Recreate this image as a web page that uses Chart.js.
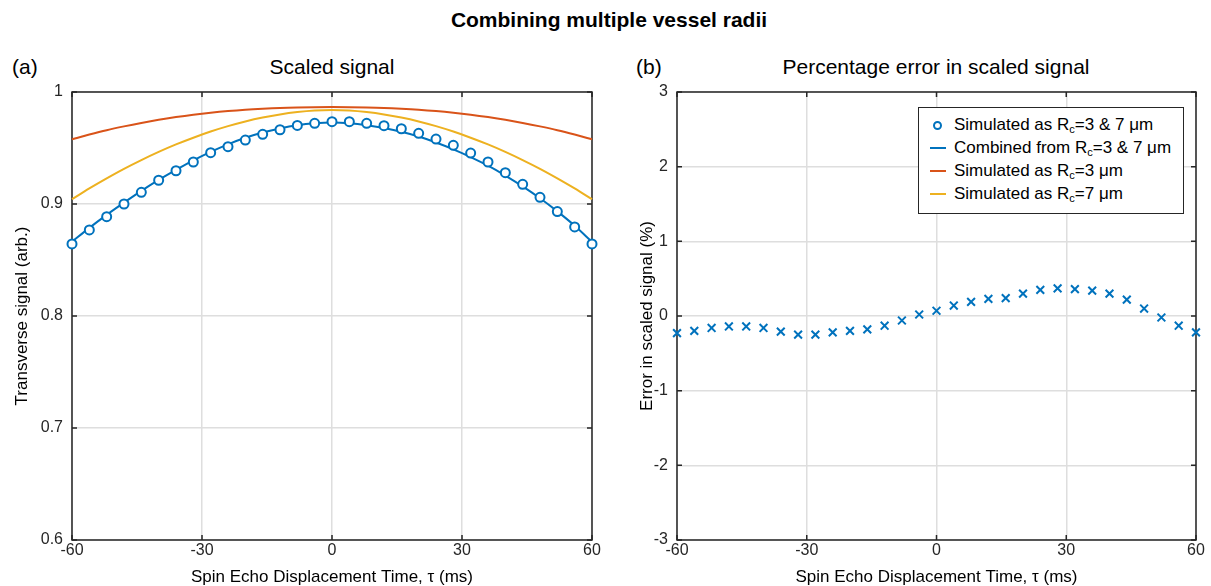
<!DOCTYPE html>
<html>
<head>
<meta charset="utf-8">
<script src="https://cdn.jsdelivr.net/npm/chart.js@4.4.1/dist/chart.umd.min.js"></script>
<style>
    body { margin: 0; background: #fff; font-family: "Liberation Sans", Arial, sans-serif; color: #000; }
    #figure { position: relative; width: 1211px; height: 586px; overflow: hidden; }
    canvas { position: absolute; top: 0; }
    .label { position: absolute; white-space: nowrap; line-height: 1; font-size: 21px; }
    .center { text-align: center; }
    #legend {
        position: absolute; left: 918px; top: 107px; width: 266px; height: 107px;
        box-sizing: border-box; border: 1px solid #262626; background: #fff;
        font-size: 17px; padding-top: 5px;
    }
    #legend .row { position: relative; height: 23px; line-height: 23px; padding-left: 35px; white-space: nowrap; }
    #legend sub { font-size: 0.65em; vertical-align: -0.3em; line-height: 0; }
    #legend .line { position: absolute; left: 11px; top: 11px; width: 16px; height: 2px; }
    #legend .marker { position: absolute; left: 14px; top: 8px; width: 5px; height: 5px; border: 2px solid #0072BD; border-radius: 50%; background: #fff; }
</style>
</head>
<body>
<div id="figure">
    <div class="label center" style="left:309px; top:9px; width:600px; font-weight:bold;">Combining multiple vessel radii</div>
    <div class="label" style="left:12px; top:56px;">(a)</div>
    <div class="label center" style="left:232px; top:56px; width:200px;">Scaled signal</div>
    <div class="label" style="left:636px; top:56px;">(b)</div>
    <div class="label center" style="left:736px; top:56px; width:400px;">Percentage error in scaled signal</div>

    <canvas id="chartSignal" width="605" height="586" style="left:0;"></canvas>
    <canvas id="chartError" width="606" height="586" style="left:605px;"></canvas>

    <div id="legend">
        <div class="row"><span class="marker"></span>Simulated as R<sub>c</sub>=3 &amp; 7 μm</div>
        <div class="row"><span class="line" style="background:#0072BD;"></span>Combined from R<sub>c</sub>=3 &amp; 7 μm</div>
        <div class="row"><span class="line" style="background:#D95319;"></span>Simulated as R<sub>c</sub>=3 μm</div>
        <div class="row"><span class="line" style="background:#EDB120;"></span>Simulated as R<sub>c</sub>=7 μm</div>
    </div>
</div>

<script>
// Spin echo displacement times (ms)
const tau = [-60, -56, -52, -48, -44, -40, -36, -32, -28, -24, -20, -16, -12, -8, -4, 0,
             4, 8, 12, 16, 20, 24, 28, 32, 36, 40, 44, 48, 52, 56, 60];

// Signal simulated directly with both radii
const simulatedBoth = [0.8643, 0.8768, 0.8887, 0.9000, 0.9104, 0.9212, 0.9297, 0.9375, 0.9458, 0.9512,
                       0.9571, 0.9622, 0.9663, 0.9702, 0.9720, 0.9735, 0.9735, 0.9720, 0.9699, 0.9672,
                       0.9631, 0.9580, 0.9524, 0.9455, 0.9375, 0.9280, 0.9176, 0.9060, 0.8932, 0.8795, 0.8643];

// Signal combined from the two single-radius simulations
const combinedBoth = [0.8663, 0.8787, 0.8903, 0.9012, 0.9117, 0.9215, 0.9305, 0.9390, 0.9466, 0.9533,
                      0.9591, 0.9638, 0.9675, 0.9703, 0.9720, 0.9727, 0.9721, 0.9704, 0.9678, 0.9645,
                      0.9602, 0.9549, 0.9488, 0.9419, 0.9342, 0.9254, 0.9157, 0.9051, 0.8934, 0.8806, 0.8662];

// Single radius simulations
const simulatedR3 = [0.9578, 0.9620, 0.9659, 0.9693, 0.9724, 0.9752, 0.9776, 0.9797, 0.9815, 0.9830,
                     0.9842, 0.9851, 0.9858, 0.9862, 0.9864, 0.9865, 0.9864, 0.9862, 0.9858, 0.9851,
                     0.9842, 0.9830, 0.9815, 0.9797, 0.9776, 0.9752, 0.9724, 0.9693, 0.9659, 0.9620, 0.9578];
const simulatedR7 = [0.9043, 0.9139, 0.9229, 0.9314, 0.9392, 0.9465, 0.9532, 0.9592, 0.9647, 0.9695,
                     0.9737, 0.9772, 0.9800, 0.9821, 0.9835, 0.9840, 0.9835, 0.9821, 0.9800, 0.9772,
                     0.9737, 0.9695, 0.9647, 0.9592, 0.9532, 0.9465, 0.9392, 0.9314, 0.9229, 0.9139, 0.9043];

// Percentage error of the combined signal
const errorPercent = [-0.23, -0.20, -0.16, -0.14, -0.14, -0.16, -0.21, -0.25, -0.25, -0.22,
                      -0.20, -0.18, -0.13, -0.06, 0.02, 0.07, 0.14, 0.19, 0.23, 0.24,
                      0.30, 0.35, 0.37, 0.36, 0.34, 0.30, 0.22, 0.10, -0.02, -0.13, -0.22];

// Tick positions and labels
const tauTicks = [-60, -30, 0, 30, 60];
const tauTickLabels = ['-60', '-30', '0', '30', '60'];
const signalTicks = [0.6, 0.7, 0.8, 0.9, 1];
const signalTickLabels = ['0.6', '0.7', '0.8', '0.9', '1'];
const errorTicks = [-3, -2, -1, 0, 1, 2, 3];
const errorTickLabels = ['-3', '-2', '-1', '0', '1', '2', '3'];

const BLUE = '#0072BD', RED = '#D95319', YELLOW = '#EDB120';
const AXIS = '#262626', GRID = '#dedede';

Chart.defaults.font.family = '"Liberation Sans", Arial, sans-serif';
Chart.defaults.color = AXIS;

const points = ys => tau.map((t, i) => ({ x: t, y: ys[i] }));

// Box round the plot area with inward tick marks
const axesBox = {
    id: 'axesBox',
    beforeDatasetsDraw(chart) {
        const { ctx, chartArea: a, scales: { x, y } } = chart;
        const len = 5;
        ctx.save();
        ctx.strokeStyle = AXIS;
        ctx.lineWidth = 1.5;
        ctx.strokeRect(a.left, a.top, a.right - a.left, a.bottom - a.top);
        ctx.beginPath();
        x.ticks.forEach(t => {
            const px = x.getPixelForValue(t.value);
            ctx.moveTo(px, a.top); ctx.lineTo(px, a.top + len);
            ctx.moveTo(px, a.bottom); ctx.lineTo(px, a.bottom - len);
        });
        y.ticks.forEach(t => {
            const py = y.getPixelForValue(t.value);
            ctx.moveTo(a.left, py); ctx.lineTo(a.left + len, py);
            ctx.moveTo(a.right, py); ctx.lineTo(a.right - len, py);
        });
        ctx.stroke();
        ctx.restore();
    }
};

function xAxis() {
    return {
        type: 'linear',
        min: -60,
        max: 60,
        afterBuildTicks: s => { s.ticks = tauTicks.map(v => ({ value: v })); },
        afterFit: s => { s.height = 46; },
        grid: { color: GRID, lineWidth: 1.5, drawTicks: false },
        border: { display: false },
        ticks: {
            padding: 3,
            font: { size: 16, lineHeight: 1 },
            maxRotation: 0,
            callback: v => tauTickLabels[tauTicks.indexOf(v)]
        },
        title: {
            display: true,
            text: 'Spin Echo Displacement Time, τ (ms)',
            color: '#000',
            font: { size: 17, lineHeight: 1 },
            padding: { top: 0, bottom: 0 }
        }
    };
}

// Scaled signal (a)
const ctxSignal = document.getElementById('chartSignal').getContext('2d');
const chartSignal = new Chart(ctxSignal, {
    type: 'line',
    data: {
        datasets: [{
            label: 'Simulated as Rc=3 & 7 μm',
            data: points(simulatedBoth),
            showLine: false,
            pointStyle: 'circle',
            pointRadius: 4.5,
            pointBorderWidth: 2,
            pointBorderColor: BLUE,
            pointBackgroundColor: '#fff',
            clip: false
        }, {
            label: 'Combined from Rc=3 & 7 μm',
            data: points(combinedBoth),
            borderColor: BLUE,
            borderWidth: 2,
            pointRadius: 0,
            cubicInterpolationMode: 'monotone',
            clip: false
        }, {
            label: 'Simulated as Rc=3 μm',
            data: points(simulatedR3),
            borderColor: RED,
            borderWidth: 2,
            pointRadius: 0,
            cubicInterpolationMode: 'monotone',
            clip: false
        }, {
            label: 'Simulated as Rc=7 μm',
            data: points(simulatedR7),
            borderColor: YELLOW,
            borderWidth: 2,
            pointRadius: 0,
            cubicInterpolationMode: 'monotone',
            clip: false
        }]
    },
    options: {
        responsive: false,
        animation: false,
        devicePixelRatio: 1,
        layout: { padding: { left: 0, top: 92, right: 13, bottom: 0 } },
        plugins: { legend: { display: false }, tooltip: { enabled: false } },
        scales: {
            x: xAxis(),
            y: {
                min: 0.6,
                max: 1,
                afterBuildTicks: s => { s.ticks = signalTicks.map(v => ({ value: v })); },
                afterFit: s => { s.width = 72; },
                grid: { color: GRID, lineWidth: 1.5, drawTicks: false },
                border: { display: false },
                ticks: {
                    padding: 9,
                    font: { size: 16, lineHeight: 1 },
                    callback: v => signalTickLabels[signalTicks.indexOf(v)]
                },
                title: {
                    display: true,
                    text: 'Transverse signal (arb.)',
                    color: '#000',
                    font: { size: 17, lineHeight: 1 },
                    padding: { top: 14, bottom: 0 }
                }
            }
        }
    },
    plugins: [axesBox]
});

// Percentage error (b)
const ctxError = document.getElementById('chartError').getContext('2d');
const chartError = new Chart(ctxError, {
    type: 'line',
    data: {
        datasets: [{
            label: 'Error in scaled signal (%)',
            data: points(errorPercent),
            showLine: false,
            pointStyle: 'crossRot',
            pointRadius: 5.5,
            pointBorderWidth: 2,
            pointBorderColor: BLUE,
            clip: false
        }]
    },
    options: {
        responsive: false,
        animation: false,
        devicePixelRatio: 1,
        layout: { padding: { left: 0, top: 92, right: 15, bottom: 0 } },
        plugins: { legend: { display: false }, tooltip: { enabled: false } },
        scales: {
            x: xAxis(),
            y: {
                min: -3,
                max: 3,
                afterBuildTicks: s => { s.ticks = errorTicks.map(v => ({ value: v })); },
                afterFit: s => { s.width = 72; },
                grid: { color: GRID, lineWidth: 1.5, drawTicks: false },
                border: { display: false },
                ticks: {
                    padding: 9,
                    font: { size: 16, lineHeight: 1 },
                    callback: v => errorTickLabels[errorTicks.indexOf(v)]
                },
                title: {
                    display: true,
                    text: 'Error in scaled signal (%)',
                    color: '#000',
                    font: { size: 17, lineHeight: 1 },
                    padding: { top: 34, bottom: 0 }
                }
            }
        }
    },
    plugins: [axesBox]
});
</script>
</body>
</html>
